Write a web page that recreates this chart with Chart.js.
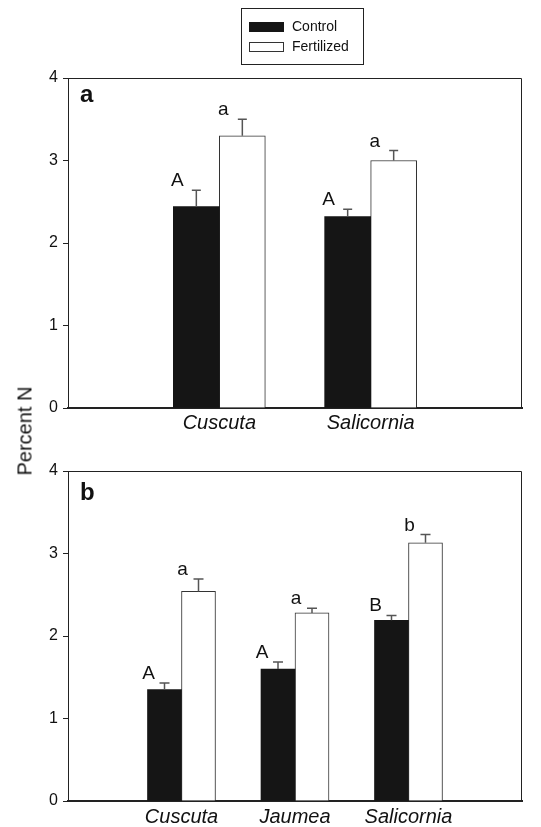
<!DOCTYPE html>
<html>
<head>
<meta charset="utf-8">
<script src="https://cdn.jsdelivr.net/npm/chart.js@4"></script>
<style>
  body { margin: 0; background: #fff; }
  #wrap { position: relative; width: 541px; height: 827px; }
  #chartA { position: absolute; left: 0; top: 0; }
  #chartB { position: absolute; left: 0; top: 440px; }
  #ytitle {
    position: absolute; left: 25px; top: 431px;
    transform: translate(-50%, -50%) rotate(-90deg);
    font: 20px "Liberation Sans", Arial, sans-serif; color: #111; white-space: nowrap;
  }
</style>
</head>
<body>
<div id="wrap">
  <canvas id="chartA" width="541" height="440"></canvas>
  <canvas id="chartB" width="541" height="387"></canvas>
  <div id="ytitle">Percent N</div>
</div>
<script>
// panel a
const categoriesA = ['Cuscuta', 'Salicornia'];
const controlA = [2.44, 2.32];
const controlErrA = [0.20, 0.09];
const fertA = [3.30, 3.00];
const fertErrA = [0.20, 0.12];
const controlLettersA = ['A', 'A'];
const fertLettersA = ['a', 'a'];

// panel b
const categoriesB = ['Cuscuta', 'Jaumea', 'Salicornia'];
const controlB = [1.35, 1.60, 2.19];
const controlErrB = [0.08, 0.085, 0.06];
const fertB = [2.54, 2.28, 3.13];
const fertErrB = [0.15, 0.055, 0.10];
const controlLettersB = ['A', 'A', 'B'];
const fertLettersB = ['a', 'a', 'b'];

const yTicks = [0, 1, 2, 3, 4];

const FONT = '"Liberation Sans", Arial, sans-serif';
const pad = arr => [null, ...arr, null];

// error bars, letters, panel label, frame, legend
const annot = {
    id: 'annot',
    afterDatasetsDraw(chart, args, opts) {
        const ctx = chart.ctx;
        const y = chart.scales.y;
        const a = chart.chartArea;
        ctx.save();
        chart.data.datasets.forEach((ds, i) => {
            const meta = chart.getDatasetMeta(i);
            meta.data.forEach((bar, j) => {
                const v = ds.data[j];
                if (v == null) return;
                const top = y.getPixelForValue(v + opts.errs[i][j]);
                ctx.strokeStyle = '#555';
                ctx.lineWidth = 1.5;
                ctx.beginPath();
                ctx.moveTo(bar.x, bar.y);
                ctx.lineTo(bar.x, top);
                ctx.moveTo(bar.x - opts.cap, top);
                ctx.lineTo(bar.x + opts.cap, top);
                ctx.stroke();
                ctx.fillStyle = '#111';
                ctx.font = '19px ' + FONT;
                ctx.textAlign = 'center';
                ctx.textBaseline = 'alphabetic';
                ctx.fillText(opts.letters[i][j], bar.x + opts.letterDx, top - 4);
            });
        });
        // frame top and right
        ctx.strokeStyle = '#222';
        ctx.lineWidth = 1;
        ctx.beginPath();
        ctx.moveTo(a.left, a.top + 0.5);
        ctx.lineTo(a.right - 0.5, a.top + 0.5);
        ctx.lineTo(a.right - 0.5, a.bottom);
        ctx.stroke();
        // panel label
        ctx.fillStyle = '#111';
        ctx.font = 'bold 24px ' + FONT;
        ctx.textAlign = 'left';
        ctx.textBaseline = 'alphabetic';
        ctx.fillText(opts.panel, a.left + 12, a.top + opts.panelDy);
        // legend
        if (opts.legend) {
            ctx.strokeStyle = '#222';
            ctx.strokeRect(241.5, 8.5, 122, 56);
            chart.data.datasets.forEach((ds, i) => {
                const cy = 27 + i * 20;
                ctx.fillStyle = ds.backgroundColor;
                ctx.fillRect(249, cy - 4.5, 35, 9);
                ctx.strokeStyle = ds.borderColor;
                ctx.lineWidth = 1;
                ctx.strokeRect(249.5, cy - 4.5, 34, 9);
                ctx.fillStyle = '#111';
                ctx.font = '14px ' + FONT;
                ctx.textBaseline = 'middle';
                ctx.fillText(ds.label, 292, cy);
            });
        }
        ctx.restore();
    }
};

function makeChart(id, cats, ctrl, ctrlErr, fert, fertErr, ctrlLet, fertLet, cfg) {
    const ctx = document.getElementById(id).getContext('2d');
    return new Chart(ctx, {
        type: 'bar',
        data: {
            labels: pad(cats).map(c => c || ''),
            datasets: [{
                label: 'Control',
                data: pad(ctrl),
                backgroundColor: '#151515',
                borderColor: '#151515',
                borderWidth: 0,
                barThickness: cfg.barW
            }, {
                label: 'Fertilized',
                data: pad(fert),
                backgroundColor: '#ffffff',
                borderColor: '#333',
                borderWidth: 1,
                barThickness: cfg.barW
            }]
        },
        options: {
            responsive: false,
            animation: false,
            devicePixelRatio: 1,
            layout: { padding: { top: cfg.top, right: 19, left: 0, bottom: 0 } },
            plugins: {
                legend: { display: false },
                tooltip: { enabled: false },
                annot: {
                    errs: [pad(ctrlErr), pad(fertErr)],
                    letters: [pad(ctrlLet), pad(fertLet)],
                    letterDx: cfg.letterDx,
                    cap: cfg.cap,
                    panel: cfg.panel,
                    panelDy: cfg.panelDy,
                    legend: cfg.legend
                }
            },
            scales: {
                x: {
                    offset: false,
                    grid: { display: false, drawTicks: false },
                    border: { display: true, color: '#222', width: 2 },
                    ticks: {
                        autoSkip: false, maxRotation: 0, padding: cfg.xPad,
                        color: '#111', font: { family: FONT, size: 20, style: 'italic', lineHeight: 1 }
                    },
                    afterFit: s => { s.height = cfg.xH; }
                },
                y: {
                    min: 0, max: 4,
                    afterBuildTicks: s => { s.ticks = yTicks.map(v => ({ value: v })); },
                    grid: { display: true, drawOnChartArea: false, drawTicks: true, tickLength: 5, color: '#222' },
                    border: { display: true, color: '#222', width: 1 },
                    ticks: { padding: 5, color: '#111', font: { family: FONT, size: 16 } },
                    afterFit: s => { s.width = 68; }
                }
            }
        },
        plugins: [annot]
    });
}

makeChart('chartA', categoriesA, controlA, controlErrA, fertA, fertErrA, controlLettersA, fertLettersA,
    { top: 78, xH: 32, xPad: 5, barW: 46, letterDx: -19, cap: 4.5, panel: 'a', panelDy: 24, legend: true });
makeChart('chartB', categoriesB, controlB, controlErrB, fertB, fertErrB, controlLettersB, fertLettersB,
    { top: 31, xH: 26, xPad: 6, barW: 34, letterDx: -16, cap: 5, panel: 'b', panelDy: 29, legend: false });
</script>
</body>
</html>
